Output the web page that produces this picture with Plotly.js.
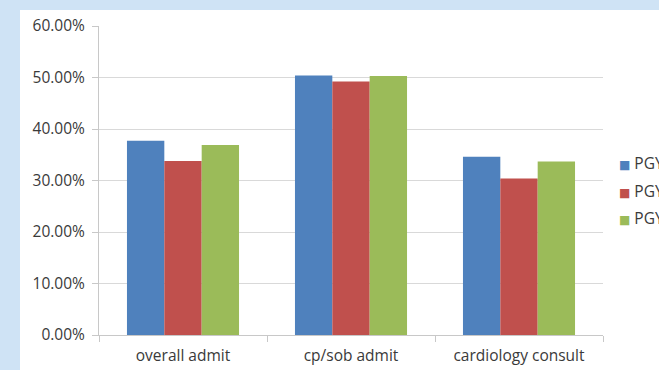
<!DOCTYPE html>
<html>
<head>
<meta charset="utf-8">
<script src="https://cdn.plot.ly/plotly-3.0.1.min.js"></script>
<style>
  html, body { margin: 0; padding: 0; background: #cfe3f5; overflow: hidden; }
  #chart { position: absolute; left: 20px; top: 10px; width: 639px; height: 360px; background: #ffffff; }
</style>
</head>
<body>
<div id="chart"></div>
<script>
// Admission / consult rates by training year
const categories = ["overall admit", "cp/sob admit", "cardiology consult"];
const seriesNames = ["PGY1", "PGY2", "PGY3"];
const pgy1 = [0.377, 0.504, 0.346];
const pgy2 = [0.338, 0.492, 0.304];
const pgy3 = [0.369, 0.503, 0.337];
const yTicks = [0, 0.1, 0.2, 0.3, 0.4, 0.5, 0.6];

const colors = ["#4f81bd", "#c0504d", "#9bbb59"];
const values = [pgy1, pgy2, pgy3];
const textColor = "#3a3a3a";
const font = "'Open Sans', 'DejaVu Sans', sans-serif";

const traces = values.map((v, i) => ({
  type: "bar",
  name: seriesNames[i],
  x: categories,
  y: v,
  marker: { color: colors[i], line: { width: 0 } },
  showlegend: false,
  hoverinfo: "x+y+name"
}));

// Key on the right, drawn as coloured squares followed by the series names
const legendAnnotations = seriesNames.map((name, i) => ({
  xref: "paper", yref: "paper",
  x: 1.028, y: 0.556 - i * 0.089,
  xanchor: "left", yanchor: "middle",
  showarrow: false,
  text: "<span style='color:" + colors[i] + ";font-size:12px'>■</span> " + name,
  font: { family: font, size: 15.5, color: textColor }
}));

const layout = {
  width: 639,
  height: 360,
  margin: { l: 79, r: 56, t: 16, b: 35 },
  paper_bgcolor: "#ffffff",
  plot_bgcolor: "#ffffff",
  barmode: "group",
  bargap: 0.333,
  bargroupgap: 0,
  font: { family: font, size: 15.5, color: textColor },
  xaxis: {
    type: "category",
    showgrid: false,
    showline: true,
    linecolor: "#c8c8c8",
    linewidth: 1,
    ticks: "outside",
    tickson: "boundaries",
    ticklen: 6,
    tickcolor: "#c8c8c8",
    ticklabelstandoff: 6,
    tickfont: { family: font, size: 15.5, color: textColor },
    fixedrange: true
  },
  yaxis: {
    range: [0, 0.6],
    tickvals: yTicks,
    tickformat: ".2%",
    showgrid: true,
    gridcolor: "#d9d9d9",
    gridwidth: 1,
    zeroline: false,
    showline: true,
    linecolor: "#c8c8c8",
    linewidth: 1,
    ticks: "outside",
    ticklen: 6,
    tickcolor: "#c8c8c8",
    ticklabelstandoff: 4,
    tickfont: { family: font, size: 15.5, color: textColor },
    fixedrange: true
  },
  annotations: legendAnnotations,
  showlegend: false
};

Plotly.newPlot("chart", traces, layout, { displayModeBar: false, staticPlot: true });
</script>
</body>
</html>
